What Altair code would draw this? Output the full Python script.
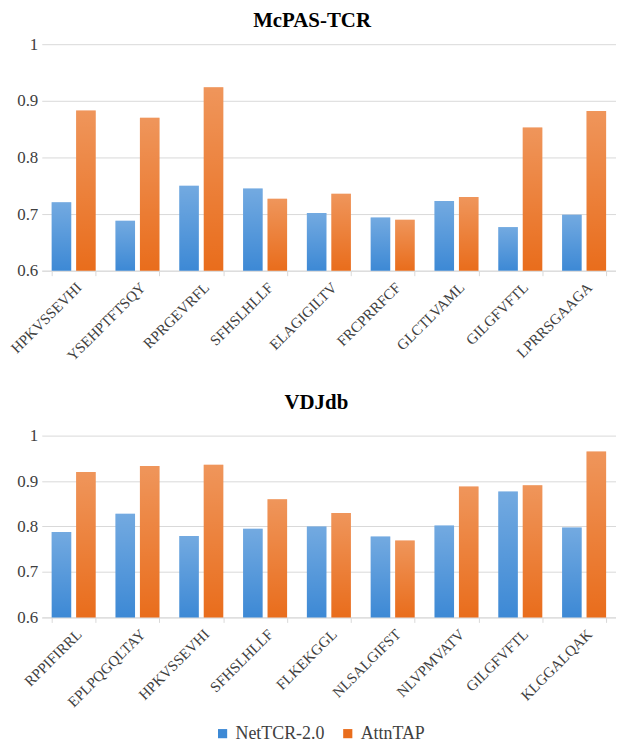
import altair as alt
import pandas as pd

models = ["NetTCR-2.0", "AttnTAP"]

peps_mcpas = ["HPKVSSEVHI", "YSEHPTFTSQY", "RPRGEVRFL", "SFHSLHLLF", "ELAGIGILTV",
              "FRCPRRFCF", "GLCTLVAML", "GILGFVFTL", "LPRRSGAAGA"]
mcpas_net = [0.721, 0.688, 0.750, 0.745, 0.702, 0.694, 0.723, 0.677, 0.699]
mcpas_attn = [0.883, 0.870, 0.924, 0.727, 0.736, 0.690, 0.730, 0.853, 0.882]

peps_vdj = ["RPPIFIRRL", "EPLPQGQLTAY", "HPKVSSEVHI", "SFHSLHLLF", "FLKEKGGL",
            "NLSALGIFST", "NLVPMVATV", "GILGFVFTL", "KLGGALQAK"]
vdj_net = [0.788, 0.828, 0.779, 0.795, 0.800, 0.778, 0.802, 0.877, 0.798]
vdj_attn = [0.920, 0.933, 0.936, 0.860, 0.830, 0.769, 0.888, 0.891, 0.965]

y_ticks = [0.6, 0.7, 0.8, 0.9, 1.0]
Y_BASE = 0.6

BLUE = "#3d89d5"
ORANGE = "#e96d1c"
FONT = "Liberation Serif"


def make_df(peps, net, attn):
    rows = []
    for p, a, b in zip(peps, net, attn):
        rows.append({"peptide": p, "model": models[0], "value": a})
        rows.append({"peptide": p, "model": models[1], "value": b})
    return pd.DataFrame(rows)


def panel(title, peps, net, attn, height, title_offset, show_legend):
    df = make_df(peps, net, attn)
    x = alt.X("peptide:N", sort=peps,
              scale=alt.Scale(paddingInner=0.31, paddingOuter=0.155),
              axis=alt.Axis(title=None, labelAngle=-45, tickBand="extent",
                            labelFont=FONT, labelFontSize=15, labelColor="#404040",
                            labelPadding=4, domainColor="#d9d9d9", tickColor="#d9d9d9",
                            tickSize=5, grid=False, labelOverlap=False))
    xo = alt.XOffset("model:N", scale=alt.Scale(domain=models, paddingInner=0.2, paddingOuter=0))
    y = alt.Y("value:Q",
              scale=alt.Scale(domain=[0.6, 1.0], zero=False, nice=False, clamp=True),
              axis=alt.Axis(title=None, values=y_ticks, format="~g", domain=False,
                            ticks=False, grid=True, gridColor="#d9d9d9",
                            labelFont=FONT, labelFontSize=17, labelColor="#404040",
                            labelPadding=4))
    y2 = alt.datum(Y_BASE)
    if show_legend:
        legend = alt.Legend(title=None, orient="none", direction="horizontal",
                            legendX=173, legendY=291, symbolType="square",
                            symbolSize=85, symbolStrokeWidth=0, labelFont=FONT,
                            labelFontSize=18, labelColor="#404040", labelOffset=4,
                            columnPadding=14)
    else:
        legend = None
    color = alt.Color("model:N", scale=alt.Scale(domain=models, range=[BLUE, ORANGE]),
                      legend=legend)
    base = alt.Chart(df)
    bars = base.mark_bar().encode(x=x, xOffset=xo, y=y, y2=y2, color=color)
    shine = base.mark_bar(
        fill=alt.Gradient(gradient="linear",
                          stops=[alt.GradientStop(offset=0, color="rgba(255,255,255,0.28)"),
                                 alt.GradientStop(offset=1, color="rgba(255,255,255,0)")],
                          x1=0, x2=0, y1=0, y2=1)
    ).encode(x=x, xOffset=xo, y=y, y2=y2)
    return alt.layer(bars, shine).properties(
        width=578, height=height,
        title=alt.TitleParams(title, font=FONT, fontSize=21, fontWeight="bold",
                              color="black", anchor="middle", frame="bounds",
                              offset=title_offset))


top = panel("McPAS-TCR", peps_mcpas, mcpas_net, mcpas_attn, 228, 4, False)
bottom = panel("VDJdb", peps_vdj, vdj_net, vdj_attn, 183, 14, True)

chart = alt.vconcat(top, bottom, spacing=28).resolve_scale(
    color="independent", x="independent").resolve_legend(color="independent").properties(
    padding=0, background="white"
).configure(font=FONT).configure_view(stroke=None).configure_legend(
    labelFont=FONT, labelFontSize=18, labelColor="#404040"
)

chart.save("out.html", embed_options={"renderer": "svg", "actions": False})
